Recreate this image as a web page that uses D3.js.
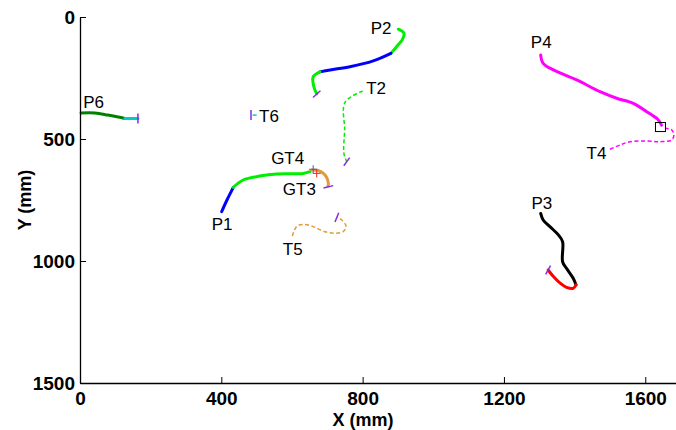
<!DOCTYPE html>
<html>
<head>
<meta charset="utf-8">
<script src="https://cdn.jsdelivr.net/npm/d3@7"></script>
<style>
  body { margin: 0; background: #fff; }
  svg { display: block; }
  .axis text { font-family: "Liberation Sans", Arial, sans-serif; font-weight: bold; font-size: 19px; fill: #000; }
  .lbl { font-family: "Liberation Sans", Arial, sans-serif; font-size: 17px; fill: #000; }
  .title { font-family: "Liberation Sans", Arial, sans-serif; font-weight: bold; font-size: 18px; fill: #000; }
</style>
</head>
<body>
<div id="visHolder"></div>
<script>
/* track points, [x mm, y mm] */
const p1Blue = [[401,798],[416,750],[434,698]];
const p1Green = [[434,698],[462,668],[509,652],[557,643],[632,641],[651,634]];
const gt3Path = [[656,627],[674,629],[689,641],[699,660],[703,682],[702,693]];
const p2Green = [[901,50],[917,67],[912,94],[900,115],[880,149]];
const p2Blue = [[880,149],[830,180],[764,204],[708,217],[679,225]];
const p2Green2 = [[679,225],[660,245],[660,272],[665,299],[670,314]];
const p3Black = [[1304,805],[1311,832],[1330,859],[1354,893],[1366,921],[1366,1003],[1377,1030],[1396,1071],[1404,1098]];
const p3Red = [[1404,1098],[1396,1112],[1377,1108],[1359,1091],[1340,1064],[1325,1037]];
const p4Path = [[1304,156],[1311,190],[1340,217],[1406,258],[1472,306],[1519,333],[1566,354],[1604,388],[1637,422],[1646,443]];
const p6Green = [[3,393],[42,393],[79,402],[108,410],[127,416]];
const p6Cyan = [[127,416],[164,416]];

/* target tracks (dashed) */
const t2Path = [[800,303],[750,350],[749,463],[747,559],[755,593]];
const t4Path = [[1500,542],[1528,525],[1557,511],[1604,508],[1642,511],[1675,504],[1681,484],[1675,463],[1656,456]];
const t5Path = [[601,898],[613,859],[632,850],[660,859],[693,880],[722,886],[745,880],[753,857],[741,832],[727,821]];
const t6Path = [[500,402],[484,402]];

/* end markers: point + heading (deg, screen) */
const endTicks = [
  { at: [164,416], angle: 90 },
  { at: [484,402], angle: 90 },
  { at: [670,316], angle: -42 },
  { at: [755,593], angle: -54 },
  { at: [703,696], angle: -14 },
  { at: [727,821], angle: -68 },
  { at: [1325,1037], angle: -61 }
];
const gtMarks = [[660,624],[670,641]];
const meetMark = [1643,451];

const labelNames = ["P6","T6","P2","T2","P4","T4","GT4","GT3","P1","T5","P3"];
const labelPos = [[9,373],[507,430],[823,70],[810,316],[1276,127],[1434,582],[541,602],[574,730],[373,873],[574,975],[1278,787]];

const xTicks = [0,400,800,1200,1600];
const yTicks = [0,500,1000,1500];

const width = 676, height = 430;

const svg = d3.select("#visHolder")
  .append("svg")
  .attr("width", width)
  .attr("height", height);

const xScale = d3.scaleLinear().domain([0,1700]).range([80, 680.6]);
const yScale = d3.scaleLinear().domain([0,1500]).range([17, 383]);

const line = d3.line()
  .x(d => xScale(d[0]))
  .y(d => yScale(d[1]))
  .curve(d3.curveCatmullRom.alpha(0.5));

/* solid tracks */
const solid = [
  { pts: p6Green, color: "#008000" },
  { pts: p6Cyan, color: "#00cccc" },
  { pts: p1Blue, color: "#0000ff" },
  { pts: p1Green, color: "#00ee00" },
  { pts: p2Green, color: "#00ee00" },
  { pts: p2Blue, color: "#0000ff" },
  { pts: p2Green2, color: "#00ee00" },
  { pts: p3Black, color: "#000000" },
  { pts: p3Red, color: "#ff0000" },
  { pts: p4Path, color: "#ff00ff" },
  { pts: gt3Path, color: "#e09b3d" }
];
const dashed = [
  { pts: t2Path, color: "#00ee00" },
  { pts: t4Path, color: "#ff00ff" },
  { pts: t5Path, color: "#e09b3d" },
  { pts: t6Path, color: "#00cccc" }
];

svg.selectAll("path.trk")
  .data(solid)
  .enter()
  .append("path")
  .attr("class", "trk")
  .attr("d", d => line(d.pts))
  .attr("fill", "none")
  .attr("stroke", d => d.color)
  .attr("stroke-width", 3)
  .attr("stroke-linecap", "round");

svg.selectAll("path.tgt")
  .data(dashed)
  .enter()
  .append("path")
  .attr("class", "tgt")
  .attr("d", d => line(d.pts))
  .attr("fill", "none")
  .attr("stroke", d => d.color)
  .attr("stroke-width", 1.5)
  .attr("stroke-dasharray", "4,2.5");

/* end ticks */
svg.selectAll("line.endtick")
  .data(endTicks)
  .enter()
  .append("line")
  .attr("class", "endtick")
  .attr("x1", d => xScale(d.at[0]) - 5*Math.cos(d.angle*Math.PI/180))
  .attr("y1", d => yScale(d.at[1]) - 5*Math.sin(d.angle*Math.PI/180))
  .attr("x2", d => xScale(d.at[0]) + 5*Math.cos(d.angle*Math.PI/180))
  .attr("y2", d => yScale(d.at[1]) + 5*Math.sin(d.angle*Math.PI/180))
  .attr("stroke", "#8a2be2")
  .attr("stroke-width", 1.5);

/* GT4 crosses */
const crossColors = ["#5a4fb0", "#ff2020"];
gtMarks.forEach((m, i) => {
  const cx = xScale(m[0]), cy = yScale(m[1]);
  svg.append("path")
    .attr("d", "M"+(cx-4)+","+cy+"H"+(cx+4)+"M"+cx+","+(cy-4)+"V"+(cy+4))
    .attr("stroke", crossColors[i])
    .attr("stroke-width", 1);
});

svg.append("rect")
  .attr("x", xScale(meetMark[0]) - 5)
  .attr("y", yScale(meetMark[1]) - 4.5)
  .attr("width", 10)
  .attr("height", 9)
  .attr("fill", "none")
  .attr("stroke", "#000")
  .attr("stroke-width", 1);

svg.selectAll("text.lbl")
  .data(labelNames)
  .enter()
  .append("text")
  .attr("class", "lbl")
  .attr("x", (d, i) => xScale(labelPos[i][0]))
  .attr("y", (d, i) => yScale(labelPos[i][1]))
  .text(d => d);

/* axes, ticks pointing inward */
const xAxis = d3.axisBottom(xScale).tickValues(xTicks).tickFormat(d3.format("d"))
  .tickSizeInner(-6).tickSizeOuter(0).tickPadding(9);
const yAxis = d3.axisLeft(yScale).tickValues(yTicks).tickFormat(d3.format("d"))
  .tickSizeInner(-6).tickSizeOuter(0).tickPadding(5);

svg.append("g")
  .attr("class", "axis")
  .attr("id", "x_axis")
  .attr("transform", "translate(0,383)")
  .call(xAxis);

svg.append("g")
  .attr("class", "axis")
  .attr("id", "y_axis")
  .attr("transform", "translate(80,0)")
  .call(yAxis);

svg.selectAll(".axis path.domain").attr("stroke", "#000").attr("stroke-width", 1.3);
svg.selectAll(".axis .tick line").attr("stroke", "#000");

svg.append("text")
  .attr("class", "title")
  .attr("x", 363)
  .attr("y", 426)
  .attr("text-anchor", "middle")
  .text("X (mm)");

svg.append("text")
  .attr("class", "title")
  .attr("transform", "translate(31,200) rotate(-90)")
  .attr("text-anchor", "middle")
  .text("Y (mm)");
</script>
</body>
</html>
